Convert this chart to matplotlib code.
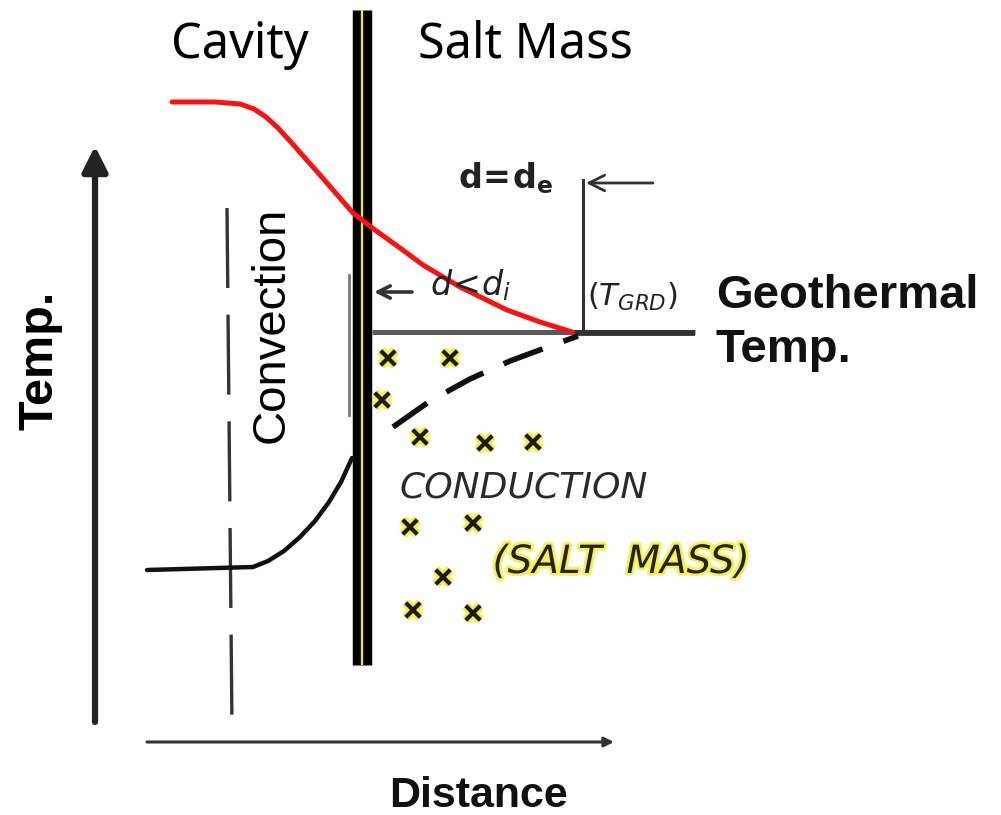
import matplotlib
matplotlib.use("Agg")
import matplotlib.pyplot as plt
import matplotlib.patheffects as pe

# diagram geometry (pixel coordinates of the sketch, y grows downward)
red_x = [172, 215, 240, 254, 266, 278, 290, 305, 320, 340, 353, 375, 400, 423, 460, 507, 540, 572]
red_y = [102, 102, 104, 109, 117, 128, 141, 158, 175, 198, 213, 230, 248, 265, 287, 310, 322, 332]

low_x = [147, 253, 268, 284, 300, 315, 329, 341, 352]
low_y = [570, 567, 561, 551, 537, 521, 502, 482, 458]

dash_x = [393, 430, 470, 510, 545, 578]
dash_y = [427, 401, 379, 361, 348, 336]

mark_x = [388, 450, 382, 420, 485, 533, 410, 473, 443, 413, 473]
mark_y = [358, 358, 400, 437, 443, 442, 527, 523, 577, 610, 613]

wall_x = 362
wall_top, wall_bottom = 10, 665
geo_y = 332

fig = plt.figure(figsize=(10.01, 8.15), dpi=100)
ax = fig.add_axes([0, 0, 1, 1])
ax.set_xlim(0, 1001)
ax.set_ylim(815, 0)
ax.axis('off')

# axes of the sketch
ax.annotate('', xy=(95, 146), xytext=(95, 722),
            arrowprops=dict(arrowstyle='-|>', lw=4.5, color='#222222',
                            mutation_scale=38, shrinkA=0, shrinkB=0))
ax.annotate('', xy=(614, 742), xytext=(147, 742),
            arrowprops=dict(arrowstyle='-|>', lw=2.2, color='#333333',
                            mutation_scale=14, shrinkA=0, shrinkB=0))

# convection boundary (dashed vertical)
ln, = ax.plot([227, 232], [208, 727], color='#333333', lw=2.4)
ln.set_dashes([24, 8])

# salt wall
ax.plot([wall_x, wall_x], [wall_top, wall_bottom], color='black', lw=14,
        solid_capstyle='butt')
ax.plot([wall_x, wall_x], [wall_top, wall_bottom], color='#ffee00', lw=1.6,
        solid_capstyle='butt')
ax.plot([349, 349], [275, 415], color='#777777', lw=2)

# geothermal level
ax.plot([372, 695], [geo_y, geo_y], color='#5a5a5a', lw=3.6, solid_capstyle='butt')
ax.plot([575, 695], [geo_y + 1, geo_y + 1], color='#333333', lw=4.2,
        solid_capstyle='butt')
ax.plot([583, 583], [180, geo_y], color='#333333', lw=2.2)
ax.annotate('', xy=(586, 183), xytext=(653, 183),
            arrowprops=dict(arrowstyle='->', lw=2, color='#333333',
                            mutation_scale=28, shrinkA=0, shrinkB=0))
ax.annotate('', xy=(374, 292), xytext=(412, 292),
            arrowprops=dict(arrowstyle='->', lw=2.6, color='#333333',
                            mutation_scale=22, shrinkA=0, shrinkB=0))

# temperature profiles
ax.plot(red_x, red_y, color='#ff1010', lw=3.6, solid_capstyle='round',
        solid_joinstyle='round')
ax.plot(low_x, low_y, color='#111111', lw=3.2, solid_capstyle='round',
        solid_joinstyle='round')
dl, = ax.plot(dash_x, dash_y, color='#111111', lw=4)
dl.set_dashes([7.5, 4])

# salt crystals
glow = [pe.withStroke(linewidth=7, foreground='#f4f03a')]
ax.scatter(mark_x, mark_y, marker='x', s=110, color='#1a1a1a', linewidths=3,
           path_effects=glow, zorder=5)

# labels
ax.text(240, 58, 'Cavity', fontsize=35, family='Noto Sans', ha='center',
        va='baseline')
ax.text(525, 58, 'Salt Mass', fontsize=35, family='Noto Sans', ha='center',
        va='baseline')
ax.text(40, 360, 'Temp.', fontsize=35, family='Liberation Sans', weight='bold',
        rotation=90, ha='center', va='center')
ax.text(272, 325, 'Convection', fontsize=34, family='Liberation Sans',
        rotation=90, ha='center', va='center')
ax.text(716, 308, 'Geothermal', fontsize=34, family='Liberation Sans',
        weight='bold', ha='left', va='baseline', color='#111111')
ax.text(716, 362, 'Temp.', fontsize=34, family='Liberation Sans',
        weight='bold', ha='left', va='baseline', color='#111111')
ax.text(478, 796, 'Distance', fontsize=31, family='Liberation Sans',
        weight='bold', ha='center', va='center', color='#111111')

ax.text(505, 178, r'$\mathbf{d\!=\!d_e}$', fontsize=24, ha='center', va='center',
        color='#222222')
ax.text(470, 285, r'$d\!<\!d_i$', fontsize=24, ha='center', va='center',
        color='#222222')
ax.text(632, 297, r'$(T_{GRD})$', fontsize=22, ha='center', va='center',
        color='#222222')

ax.text(524, 488, 'CONDUCTION', fontsize=26, family='DejaVu Sans',
        ha='center', va='center', color='#2a2a2a', style='italic')
ax.text(621, 562, '(SALT  MASS)', fontsize=28, family='DejaVu Sans',
        ha='center', va='center', color='#222222', style='italic',
        path_effects=[pe.withStroke(linewidth=4, foreground='#f6f24a')])

fig.savefig('out.png', dpi=100)
